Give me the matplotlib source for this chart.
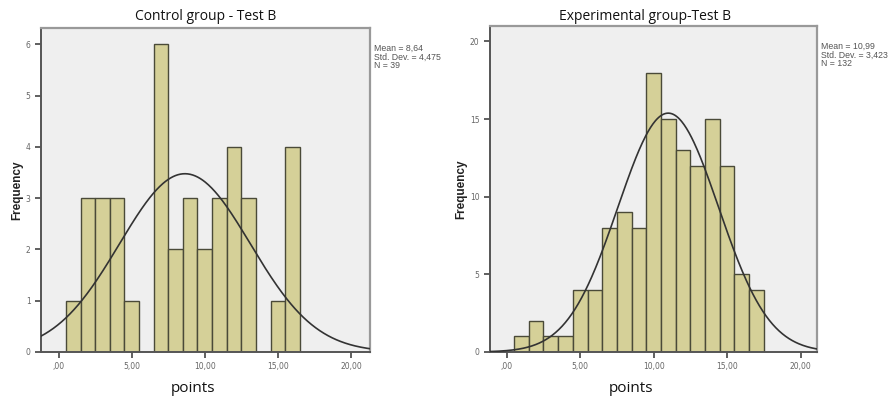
import numpy as np
import matplotlib.pyplot as plt

# bin centres (points) and counts
ctrl_bins = [1, 2, 3, 4, 5, 6, 7, 8, 9, 10, 11, 12, 13, 14, 15, 16]
ctrl_freq = [1, 3, 3, 3, 1, 0, 6, 2, 3, 2, 3, 4, 3, 0, 1, 4]
ctrl_mean, ctrl_sd, ctrl_n = 8.64, 4.475, 39

exp_bins = [1, 2, 3, 4, 5, 6, 7, 8, 9, 10, 11, 12, 13, 14, 15, 16, 17]
exp_freq = [1, 2, 1, 1, 4, 4, 8, 9, 8, 18, 15, 13, 12, 15, 12, 5, 4]
exp_mean, exp_sd, exp_n = 10.99, 3.423, 132

xticks = [0, 5, 10, 15, 20]
xtick_labels = [',00', '5,00', '10,00', '15,00', '20,00']

bar_color = '#d5d098'
bar_edge = '#4a4a38'
bg = '#efefef'

fig = plt.figure(figsize=(8.88, 4.03), dpi=100)


def panel(rect, bins, freq, mean, sd, n, xlim, ylim, yticks, stats, title, title_x):
    ax = fig.add_axes(rect)
    ax.set_facecolor(bg)
    ax.bar(bins, freq, width=1.0, color=bar_color, edgecolor=bar_edge, linewidth=1.0, zorder=2)
    xs = np.linspace(xlim[0], xlim[1], 400)
    curve = n * 1.0 / (sd * np.sqrt(2 * np.pi)) * np.exp(-0.5 * ((xs - mean) / sd) ** 2)
    ax.plot(xs, curve, color='#333333', linewidth=1.2, zorder=3)
    ax.set_xlim(*xlim)
    ax.set_ylim(*ylim)
    ax.set_xticks(xticks)
    ax.set_xticklabels(xtick_labels)
    ax.set_yticks(yticks)
    ax.tick_params(axis='both', labelsize=5.5, labelcolor='#666666', color='#444444',
                   length=4, width=1.2, direction='out')
    for s in ['left', 'bottom']:
        ax.spines[s].set_color('#555555')
        ax.spines[s].set_linewidth(1.4)
    for s in ['top', 'right']:
        ax.spines[s].set_color('#999999')
        ax.spines[s].set_linewidth(1.6)
    ax.set_ylabel('Frequency', fontsize=8.5, fontweight='bold', family='Liberation Sans',
                  color='#222222', labelpad=2)
    box = ax.get_position()
    fig.text(box.x1 + 0.005, box.y1 - 0.04, stats, fontsize=6.3, color='#555555',
             va='top', ha='left', linespacing=0.95, family='Liberation Sans')
    fig.text(title_x, 0.96, title, fontsize=10, ha='center', va='center',
             family='Open Sans', color='#111111')
    fig.text(title_x - 0.015, 0.037, 'points', fontsize=11, ha='center', va='center',
             family='Open Sans', color='#111111')
    return ax


panel([0.0462, 0.1266, 0.3705, 0.804], ctrl_bins, ctrl_freq, ctrl_mean, ctrl_sd, ctrl_n,
      (-1.2, 21.3), (0, 6.32), [0, 1, 2, 3, 4, 5, 6],
      'Mean = 8,64\nStd. Dev. = 4,475\nN = 39', 'Control group - Test B', 0.232)

panel([0.5518, 0.1266, 0.368, 0.809], exp_bins, exp_freq, exp_mean, exp_sd, exp_n,
      (-1.14, 21.1), (0, 21.0), [0, 5, 10, 15, 20],
      'Mean = 10,99\nStd. Dev. = 3,423\nN = 132', 'Experimental group-Test B', 0.726)

fig.savefig('out.png', dpi=100)
